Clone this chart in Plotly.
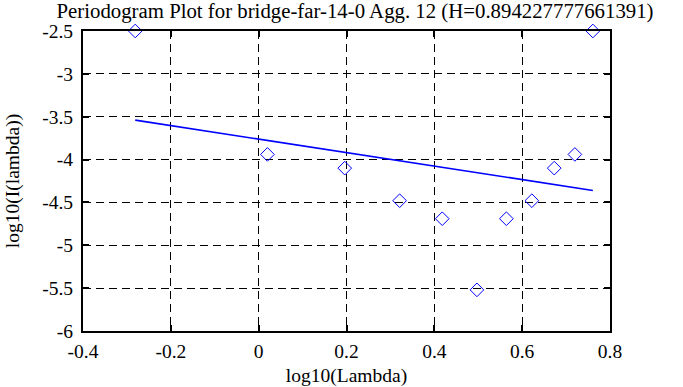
import plotly.graph_objects as go

# log10 of the periodogram frequencies
log_lambda = [-0.281, 0.020, 0.196, 0.321, 0.418, 0.497, 0.564, 0.622, 0.673, 0.720, 0.761]
# log10 of the periodogram values
log_I = [-2.50, -3.94, -4.10, -4.48, -4.69, -5.52, -4.69, -4.48, -4.10, -3.94, -2.50]

# least-squares fit line endpoints
fit_x = [-0.281, 0.761]
fit_y = [-3.54, -4.36]

title_text = "Periodogram Plot for bridge-far-14-0 Agg. 12 (H=0.894227777661391)"
x_ticks = [-0.4, -0.2, 0, 0.2, 0.4, 0.6, 0.8]
x_tick_text = ["-0.4", "-0.2", "0", "0.2", "0.4", "0.6", "0.8"]
y_ticks = [-6, -5.5, -5, -4.5, -4, -3.5, -3, -2.5]
y_tick_text = ["-6", "-5.5", "-5", "-4.5", "-4", "-3.5", "-3", "-2.5"]

FONT = "Liberation Serif"
FS = 19.5

fig = go.Figure()
fig.add_trace(go.Scatter(
    x=log_lambda, y=log_I, mode="markers",
    marker=dict(symbol="diamond-open", size=10.5, color="#0000ff",
                line=dict(width=1, color="#0000ff")),
    cliponaxis=False, showlegend=False,
))
fig.add_trace(go.Scatter(
    x=fit_x, y=fit_y, mode="lines",
    line=dict(color="#0000ff", width=1.6),
    showlegend=False,
))

axis_common = dict(
    showline=True, linecolor="black", linewidth=2, mirror="allticks",
    ticks="inside", ticklen=6, tickwidth=2, tickcolor="black",
    showgrid=True, gridcolor="black", gridwidth=1, griddash="8px,5px",
    zeroline=False, automargin=False,
    tickfont=dict(family=FONT, size=FS, color="black"),
)

fig.update_xaxes(
    range=[-0.4, 0.8], tickvals=x_ticks, ticktext=x_tick_text,
    ticklabelstandoff=2,
    title=dict(text="log10(Lambda)", font=dict(family=FONT, size=FS, color="black"), standoff=8),
    **axis_common,
)
fig.update_yaxes(
    range=[-6, -2.5], tickvals=y_ticks, ticktext=y_tick_text,
    ticklabelstandoff=4,
    title=dict(text="log10(I(lambda))", font=dict(family=FONT, size=FS, color="black"), standoff=17),
    **axis_common,
)

fig.update_layout(
    width=683, height=387,
    margin=dict(l=83, r=73, t=31, b=56),
    paper_bgcolor="white", plot_bgcolor="white",
    title=dict(text=title_text, font=dict(family=FONT, size=20.8, color="black"),
               x=355 / 683, xref="container", xanchor="center",
               y=1 - 11 / 387, yref="container", yanchor="middle"),
)

fig.write_html("out.html", config={"displayModeBar": False},
               post_script="document.body.style.margin='0';")
